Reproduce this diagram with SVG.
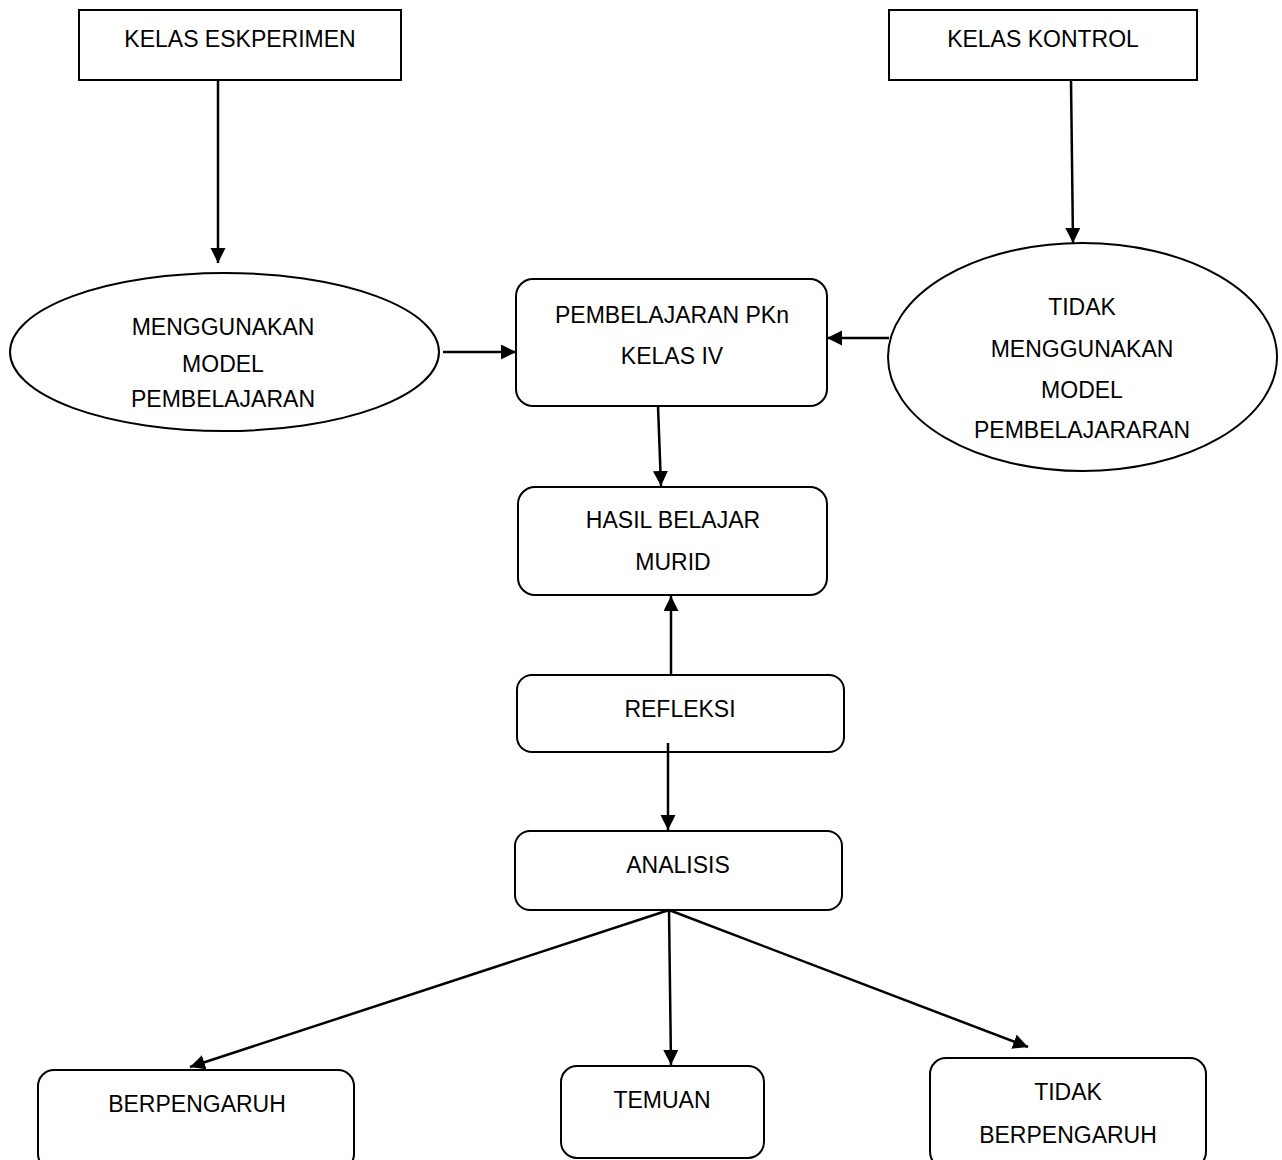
<svg xmlns="http://www.w3.org/2000/svg" width="1282" height="1160" viewBox="0 0 1282 1160">
<defs>
<marker id="ah" markerUnits="userSpaceOnUse" markerWidth="16" markerHeight="16" refX="15" refY="7.5" orient="auto">
<path d="M0,0 L15,7.5 L0,15 z" fill="#000"/>
</marker>
<style>
.n{fill:#fff;stroke:#000;stroke-width:2}
.t{font-family:"Liberation Sans",Arial,sans-serif;font-size:23px;fill:#000;text-anchor:middle}
.c line{stroke:#000;stroke-width:2.5;marker-end:url(#ah)}
</style>
</defs>
<rect width="1282" height="1160" fill="#fff"/>
<g id="kelas-eksperimen"><rect class="n" x="79" y="10" width="322" height="70"/><text class="t" x="240" y="47">KELAS ESKPERIMEN</text></g>
<g id="kelas-kontrol"><rect class="n" x="889" y="10" width="308" height="70"/><text class="t" x="1043" y="47">KELAS KONTROL</text></g>
<g id="menggunakan"><ellipse class="n" cx="224.5" cy="352" rx="214.5" ry="79"/><text class="t" x="223" y="335">MENGGUNAKAN</text><text class="t" x="223" y="372">MODEL</text><text class="t" x="223" y="407">PEMBELAJARAN</text></g>
<g id="tidak-menggunakan"><ellipse class="n" cx="1082.5" cy="357" rx="194.5" ry="114"/><text class="t" x="1082" y="315">TIDAK</text><text class="t" x="1082" y="357">MENGGUNAKAN</text><text class="t" x="1082" y="398">MODEL</text><text class="t" x="1082" y="438">PEMBELAJARARAN</text></g>
<g id="pembelajaran"><rect class="n" x="516" y="279" width="311" height="127" rx="17"/><text class="t" x="672" y="323">PEMBELAJARAN PKn</text><text class="t" x="672" y="364">KELAS IV</text></g>
<g id="hasil"><rect class="n" x="518" y="487" width="309" height="108" rx="17"/><text class="t" x="673" y="528">HASIL BELAJAR</text><text class="t" x="673" y="570">MURID</text></g>
<g id="refleksi"><rect class="n" x="517" y="675" width="327" height="77" rx="15"/><text class="t" x="680" y="717">REFLEKSI</text></g>
<g id="analisis"><rect class="n" x="515" y="831" width="327" height="79" rx="15"/><text class="t" x="678" y="873">ANALISIS</text></g>
<g id="berpengaruh"><rect class="n" x="38" y="1070" width="316" height="100" rx="16"/><text class="t" x="197" y="1112">BERPENGARUH</text></g>
<g id="temuan"><rect class="n" x="561" y="1066" width="203" height="92" rx="16"/><text class="t" x="662" y="1108">TEMUAN</text></g>
<g id="tidak-berpengaruh"><rect class="n" x="930" y="1058" width="276" height="110" rx="16"/><text class="t" x="1068" y="1100">TIDAK</text><text class="t" x="1068" y="1143">BERPENGARUH</text></g>
<g id="connectors" class="c">
<line x1="218" y1="80" x2="218" y2="263"/>
<line x1="1071" y1="80" x2="1073" y2="243"/>
<line x1="443" y1="352" x2="516" y2="352"/>
<line x1="889" y1="338" x2="827" y2="338"/>
<line x1="658" y1="406" x2="661" y2="486"/>
<line x1="671" y1="675" x2="671" y2="596"/>
<line x1="668" y1="743" x2="668" y2="830"/>
<line x1="669" y1="910" x2="190" y2="1067"/>
<line x1="669" y1="910" x2="671" y2="1065"/>
<line x1="669" y1="910" x2="1028" y2="1047"/>
</g>
</svg>
